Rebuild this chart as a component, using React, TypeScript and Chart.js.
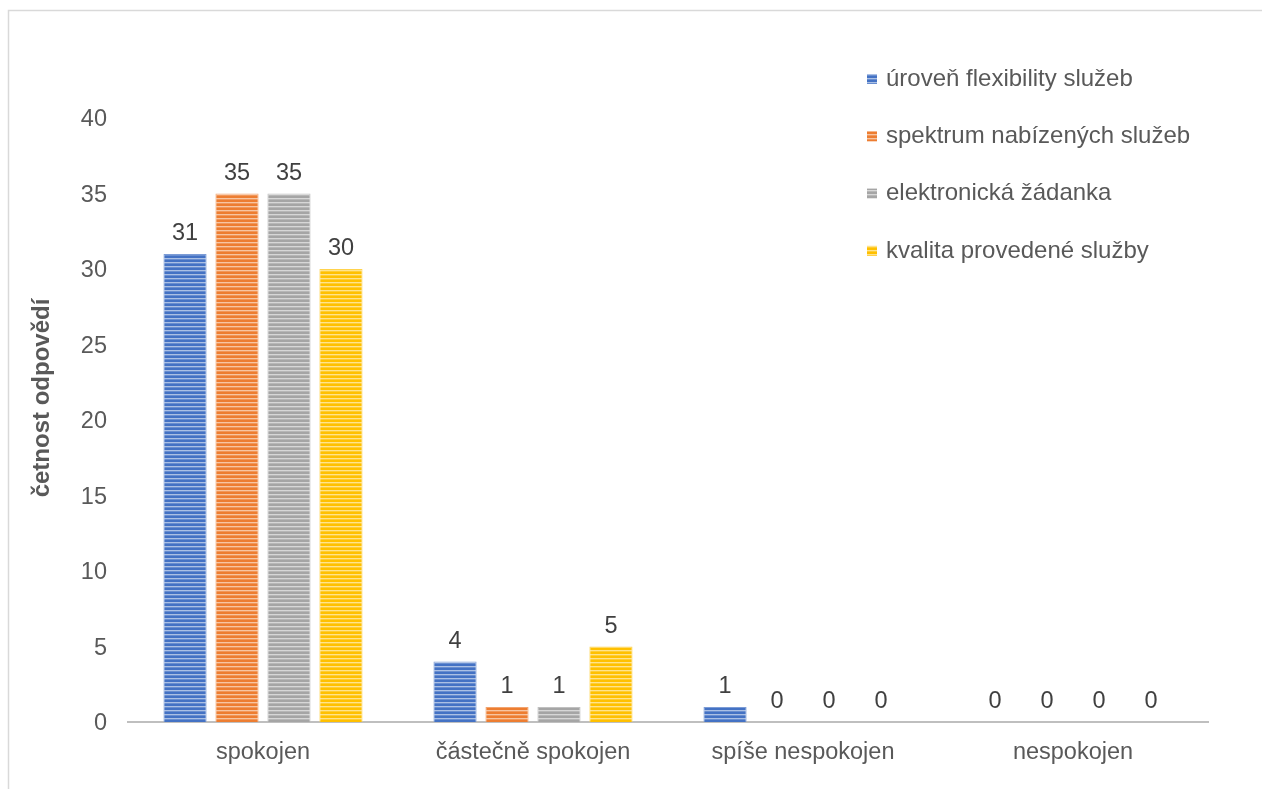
import React, { useEffect, useRef } from "react";
import { Chart, registerables } from "chart.js";

Chart.register(...registerables);

const categories = ["spokojen", "částečně spokojen", "spíše nespokojen", "nespokojen"];
const seriesNames = [
  "úroveň flexibility služeb",
  "spektrum nabízených služeb",
  "elektronická žádanka",
  "kvalita provedené služby",
];
const flexibility = [31, 4, 1, 0];
const spectrum = [35, 1, 0, 0];
const eRequest = [35, 1, 0, 0];
const quality = [30, 5, 0, 0];
const seriesColors = ["#4472C4", "#ED7D31", "#A5A5A5", "#FFC000"];
const yTicks = [0, 5, 10, 15, 20, 25, 30, 35, 40];
const yTitle = "četnost odpovědí";

function mix(hex: string, t: number) {
  const n = parseInt(hex.slice(1), 16);
  const r = (n >> 16) & 255, g = (n >> 8) & 255, b = n & 255;
  const f = (c: number) => Math.round(c + (255 - c) * t);
  return `rgb(${f(r)},${f(g)},${f(b)})`;
}

function stripes(hex: string): CanvasPattern | string {
  const c = document.createElement("canvas");
  c.width = 4;
  c.height = 4;
  const ctx = c.getContext("2d");
  if (!ctx) return hex;
  ctx.fillStyle = hex;
  ctx.fillRect(0, 0, 4, 2);
  ctx.fillStyle = mix(hex, 0.55);
  ctx.fillRect(0, 2, 4, 1);
  ctx.fillStyle = mix(hex, 0.2);
  ctx.fillRect(0, 3, 4, 1);
  return ctx.createPattern(c, "repeat") || hex;
}

const FONT = "'Liberation Sans', Arial, sans-serif";

const labelPlugin = {
  id: "valueLabels",
  afterDatasetsDraw(chart: any) {
    const ctx = chart.ctx;
    ctx.save();
    ctx.font = `23.5px ${FONT}`;
    ctx.fillStyle = "#404040";
    ctx.textAlign = "center";
    ctx.textBaseline = "alphabetic";
    chart.data.datasets.forEach((ds: any, i: number) => {
      const meta = chart.getDatasetMeta(i);
      meta.data.forEach((bar: any, j: number) => {
        ctx.fillText(String(ds.data[j]), bar.x, bar.y - 14);
      });
    });
    ctx.restore();
  },
};

const legendPlugin = {
  id: "customLegend",
  afterDraw(chart: any) {
    const ctx = chart.ctx;
    ctx.save();
    ctx.font = `24px ${FONT}`;
    ctx.textBaseline = "middle";
    ctx.textAlign = "left";
    seriesNames.forEach((name, i) => {
      const y = 79 + i * 57.3;
      ctx.fillStyle = stripes(seriesColors[i]);
      ctx.fillRect(867, y - 5, 10, 10);
      ctx.fillStyle = "#595959";
      ctx.fillText(name, 886, y);
    });
    // y-axis title
    ctx.translate(42, 398);
    ctx.rotate(-Math.PI / 2);
    ctx.textAlign = "center";
    ctx.font = `bold 24px ${FONT}`;
    ctx.fillText(yTitle, 0, 0);
    ctx.restore();
  },
};

const borderPlugin = {
  id: "outerBorder",
  beforeDraw(chart: any) {
    const ctx = chart.ctx;
    ctx.save();
    ctx.fillStyle = "#ffffff";
    ctx.fillRect(0, 0, chart.width, chart.height);
    ctx.strokeStyle = "#d9d9d9";
    ctx.lineWidth = 1.5;
    ctx.strokeRect(8.5, 10.5, chart.width + 20, chart.height + 20);
    ctx.restore();
  },
};

export default function App() {
  const ref = useRef<HTMLCanvasElement>(null);
  useEffect(() => {
    if (!ref.current) return;
    const dataArrays = [flexibility, spectrum, eRequest, quality];
    const chart = new Chart(ref.current, {
      type: "bar",
      data: {
        labels: categories,
        datasets: dataArrays.map((d, i) => ({
          label: seriesNames[i],
          data: d,
          backgroundColor: stripes(seriesColors[i]) as any,
          borderColor: mix(seriesColors[i], 0.3),
          borderWidth: 1,
          barPercentage: 0.83,
          categoryPercentage: 0.77,
        })),
      },
      options: {
        animation: false,
        responsive: false,
        maintainAspectRatio: false,
        layout: { padding: { top: 118, right: 54, left: 0, bottom: 0 } },
        plugins: {
          legend: { display: false },
          tooltip: { enabled: false },
        },
        scales: {
          x: {
            grid: { display: false, drawTicks: false },
            border: { display: true, color: "#bfbfbf", width: 2 },
            ticks: { color: "#595959", font: { family: FONT, size: 23.5 }, padding: 16 },
            afterFit: (s: any) => { s.height = 67; },
          },
          y: {
            min: 0,
            max: 40,
            afterBuildTicks: (s: any) => { s.ticks = yTicks.map((v) => ({ value: v })); },
            grid: { display: false, drawTicks: false },
            border: { display: false },
            ticks: { color: "#595959", font: { family: FONT, size: 23.5 }, padding: 21, labelOffset: 2 },
            afterFit: (s: any) => { s.width = 128; },
          },
        },
      },
      plugins: [borderPlugin, labelPlugin, legendPlugin],
    });
    return () => chart.destroy();
  }, []);
  return (
    <div style={{ position: "fixed", left: 0, top: 0, width: 1262, height: 789, background: "#fff" }}>
      <canvas ref={ref} width={1262} height={789} style={{ display: "block" }} />
    </div>
  );
}
